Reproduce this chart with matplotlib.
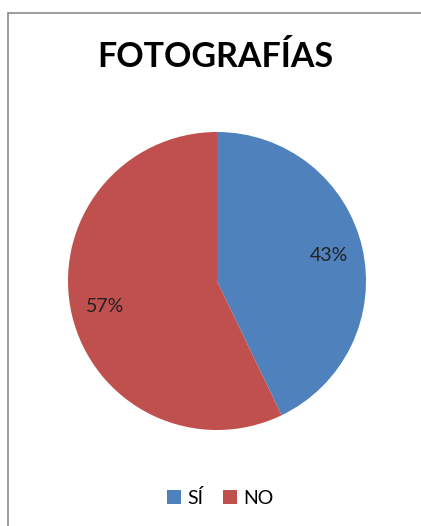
import matplotlib.pyplot as plt
from matplotlib.patches import Rectangle

# data
labels = ["SÍ", "NO"]
values = [3, 4]
colors = ["#4F81BD", "#C0504D"]

W, H = 421, 526
fig = plt.figure(figsize=(W / 100, H / 100), dpi=100)
fig.patch.set_facecolor("white")

# chart frame (cut off on right and bottom)
fig.add_artist(Rectangle((7.5 / W, -0.1), 1.2, 1 - 12.5 / H + 0.1,
                         transform=fig.transFigure, fill=False,
                         edgecolor="#8c8c8c", linewidth=1.2))

cx, cy, r = 217, 281, 149
ax = fig.add_axes([(cx - r) / W, (H - cy - r) / H, 2 * r / W, 2 * r / H])
wedges, texts, autotexts = ax.pie(
    values, colors=colors, startangle=90, counterclock=False,
    autopct="%1.0f%%", pctdistance=0.77,
    textprops=dict(fontsize=14, color="#222222", family="Lato"),
    wedgeprops=dict(linewidth=0),
)
ax.set_xlim(-1, 1)
ax.set_ylim(-1, 1)
ax.set_aspect("equal")

fig.text(215 / W, 1 - 57 / H, "FOTOGRAFÍAS", ha="center", va="center",
         fontsize=24.5, fontweight="bold", family="Lato", color="black")

fig.legend(wedges, labels, loc="center", bbox_to_anchor=(220 / W, 1 - 498 / H),
           ncol=2, frameon=False, handlelength=0.75, handleheight=0.75,
           handletextpad=0.3, columnspacing=1.0,
           prop=dict(family="Lato", size=14))

fig.savefig("out.png", dpi=100)
